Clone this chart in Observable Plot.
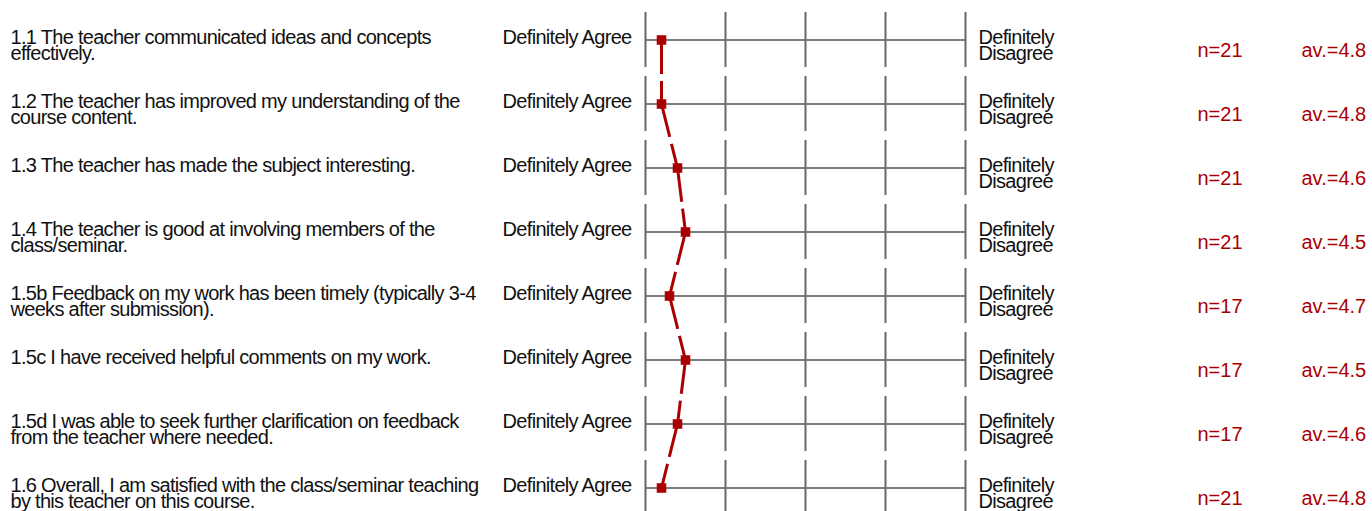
<!DOCTYPE html>
<html>
<head>
<meta charset="utf-8">
<script src="https://cdn.jsdelivr.net/npm/d3@7"></script>
<script src="https://cdn.jsdelivr.net/npm/@observablehq/plot@0.6"></script>
<style>
  html, body { margin: 0; padding: 0; background: #fff; }
  #chart svg g[fill="#111"] text { letter-spacing: -0.7px; }
</style>
</head>
<body>
<div id="chart"></div>
<script>
// ---- data ----
const codes = ["1.1", "1.2", "1.3", "1.4", "1.5b", "1.5c", "1.5d", "1.6"];
const questions = [
  "1.1 The teacher communicated ideas and concepts\neffectively.",
  "1.2 The teacher has improved my understanding of the\ncourse content.",
  "1.3 The teacher has made the subject interesting.",
  "1.4 The teacher is good at involving members of the\nclass/seminar.",
  "1.5b Feedback on my work has been timely (typically 3-4\nweeks after submission).",
  "1.5c I have received helpful comments on my work.",
  "1.5d I was able to seek further clarification on feedback\nfrom the teacher where needed.",
  "1.6 Overall, I am satisfied with the class/seminar teaching\nby this teacher on this course."
];
const counts = [21, 21, 21, 21, 17, 17, 17, 21];
const averages = [4.8, 4.8, 4.6, 4.5, 4.7, 4.5, 4.6, 4.8];
const scaleTicks = [5, 4, 3, 2, 1];
const leftLabel = "Definitely Agree";
const rightLabel = "Definitely\nDisagree";

// ---- derived tables ----
const rows = codes.map((c, i) => ({
  code: c, question: questions[i], n: counts[i], av: averages[i]
}));
const grid = rows.flatMap(r => scaleTicks.map(t => ({code: r.code, t})));
const segments = rows.slice(1).map((r, i) => ({
  x1: rows[i].av, y1: rows[i].code, x2: r.av, y2: r.code
}));

const RED = "#aa0000";
const FS = 20;
const LH = 0.84;
const DY = -8.4;

const chart = Plot.plot({
  width: 1372,
  height: 511,
  margin: 0,
  style: {fontFamily: "'Liberation Sans', Arial, sans-serif", background: "#fff"},
  x: {domain: [5, 1], range: [645, 965], axis: null},
  y: {type: "band", domain: codes, range: [8, 520], paddingInner: 0.136, paddingOuter: 0.068, axis: null},
  marks: [
    // horizontal scale lines
    Plot.ruleY(rows, {y: "code", x1: 5, x2: 1, stroke: "#555", strokeWidth: 1.6}),
    // vertical ticks
    Plot.tickX(grid, {x: "t", y: "code", stroke: "#666", strokeWidth: 2}),
    // dashed profile line
    Plot.link(segments, {x1: "x1", y1: "y1", x2: "x2", y2: "y2",
      stroke: RED, strokeWidth: 3, strokeDasharray: "34,7"}),
    Plot.dot(rows, {x: "av", y: "code", symbol: "square", r: 5.4, fill: RED, stroke: null}),
    // question text
    Plot.text(rows, {text: "question", y: "code", frameAnchor: "left", dx: 10,
      textAnchor: "start", lineAnchor: "top", lineHeight: LH, dy: DY,
      fontSize: FS, fill: "#111"}),
    // left label
    Plot.text(rows, {text: () => leftLabel, x: () => 5, y: "code", dx: -14,
      textAnchor: "end", lineAnchor: "top", lineHeight: LH, dy: DY,
      fontSize: FS, fill: "#111"}),
    // right label
    Plot.text(rows, {text: () => rightLabel, x: () => 1, y: "code", dx: 13,
      textAnchor: "start", lineAnchor: "top", lineHeight: LH, dy: DY,
      fontSize: FS, fill: "#111"}),
    // n and average
    Plot.text(rows, {text: d => `n=${d.n}`, y: "code", frameAnchor: "left", dx: 1197,
      textAnchor: "start", lineAnchor: "top", lineHeight: 1, dy: 2.8,
      fontSize: FS, fill: RED}),
    Plot.text(rows, {text: d => `av.=${d3.format(".1f")(d.av)}`, y: "code", frameAnchor: "left", dx: 1301,
      textAnchor: "start", lineAnchor: "top", lineHeight: 1, dy: 2.8,
      fontSize: FS, fill: RED})
  ]
});
document.getElementById("chart").appendChild(chart);
</script>
</body>
</html>
